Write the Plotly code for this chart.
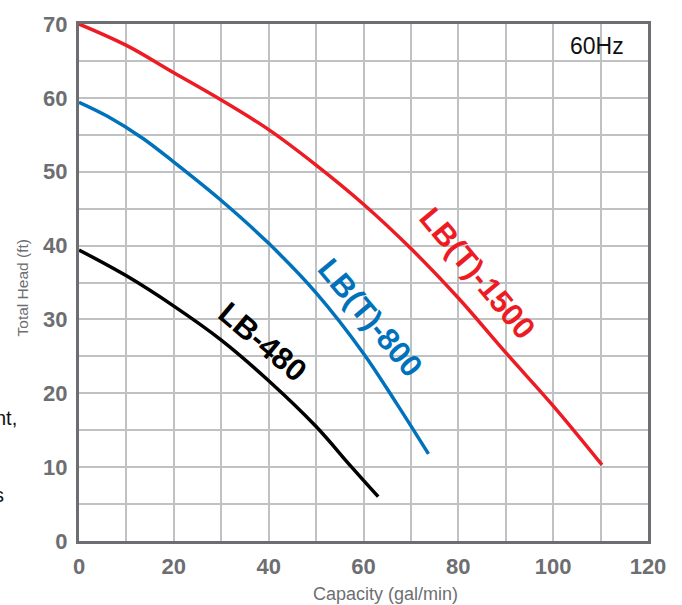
import plotly.graph_objects as go

# Data
red_x = [0, 10, 20, 30, 40, 50, 60, 70, 80, 90, 100, 110.3]
red_y = [70, 67.1, 63.4, 59.7, 55.7, 50.9, 45.6, 39.6, 32.9, 25.5, 18.3, 10.3]

blue_x = [0, 6, 13.5, 20, 30, 40, 50, 60, 67, 73.7]
blue_y = [59.4, 57.5, 54.5, 51.3, 46.1, 40.3, 33.6, 25.4, 18.6, 11.8]

black_x = [0, 10, 20, 30, 40, 50, 57.5, 63.1]
black_y = [39.4, 35.9, 31.8, 27.2, 21.7, 15.5, 10, 6]

series_names = ["LB(T)-1500", "LB(T)-800", "LB-480"]
series_colors = ["#ed1c24", "#0072bc", "#000000"]

x_ticks = [0, 20, 40, 60, 80, 100, 120]
y_ticks = [0, 10, 20, 30, 40, 50, 60, 70]

FONT = "Arial, Liberation Sans, Helvetica, sans-serif"
AXIS_GRAY = "#6d6e71"
GRID_GRAY = "#bfc1c3"

fig = go.Figure()
for xs, ys, name, col in zip([red_x, blue_x, black_x], [red_y, blue_y, black_y],
                              series_names, series_colors):
    fig.add_trace(go.Scatter(x=xs, y=ys, mode="lines", name=name,
                             line=dict(color=col, width=3.5, shape="spline", smoothing=1.0),
                             showlegend=False, hoverinfo="skip"))

# Curve labels
labels = [
    dict(text="LB(T)-1500", x=84.0, y=36.2, angle=50, color=series_colors[0]),
    dict(text="LB(T)-800", x=61.4, y=30.3, angle=50, color=series_colors[1]),
    dict(text="LB-480", x=38.6, y=27.0, angle=40, color=series_colors[2]),
]
for lb in labels:
    fig.add_annotation(x=lb["x"], y=lb["y"], xref="x", yref="y", text="<b>%s</b>" % lb["text"],
                       textangle=lb["angle"], showarrow=False,
                       font=dict(family=FONT, size=31, color=lb["color"]),
                       xanchor="center", yanchor="middle")

fig.add_annotation(x=109.3, y=67.0, xref="x", yref="y", text="60Hz", showarrow=False,
                   font=dict(family=FONT, size=23, color="#111111"),
                   xanchor="center", yanchor="middle")

L, R, T, B = 79, 34, 18, 64
W, H = 682, 605
pw = W - L - R
ph = H - T - B

# Axis titles
fig.add_annotation(xref="paper", yref="paper", x=(22 - L) / pw, y=(H - B - 285.5) / ph,
                   text="Total Head (ft)", textangle=-90, showarrow=False,
                   font=dict(family=FONT, size=15.5, color=AXIS_GRAY),
                   xanchor="center", yanchor="middle")
fig.add_annotation(xref="paper", yref="paper", x=(385 - L) / pw, y=(H - B - 595) / ph,
                   text="Capacity (gal/min)", showarrow=False,
                   font=dict(family=FONT, size=18, color=AXIS_GRAY),
                   xanchor="center", yanchor="middle")

# Cut-off text fragments at the left edge (cut in the reference too)
fig.add_annotation(xref="paper", yref="paper", x=(19 - L) / pw, y=(H - B - 417) / ph,
                   text="nt,", showarrow=False, font=dict(family=FONT, size=20, color="#111111"),
                   xanchor="right", yanchor="middle")
fig.add_annotation(xref="paper", yref="paper", x=(6 - L) / pw, y=(H - B - 494) / ph,
                   text="s", showarrow=False, font=dict(family=FONT, size=20, color="#111111"),
                   xanchor="right", yanchor="middle")

fig.update_xaxes(range=[0, 120], tickvals=x_ticks, showgrid=True, gridcolor=GRID_GRAY, gridwidth=1.5,
                 minor=dict(dtick=10, showgrid=True, gridcolor=GRID_GRAY, gridwidth=1.5),
                 showline=True, linecolor=AXIS_GRAY, linewidth=3, mirror=True,
                 ticks="", ticklabelstandoff=4, zeroline=False,
                 tickfont=dict(family=FONT, size=22, color=AXIS_GRAY, weight="bold"))
fig.update_yaxes(range=[0, 70], tickvals=y_ticks, showgrid=True, gridcolor=GRID_GRAY, gridwidth=1.5,
                 minor=dict(dtick=5, showgrid=True, gridcolor=GRID_GRAY, gridwidth=1.5),
                 showline=True, linecolor=AXIS_GRAY, linewidth=3, mirror=True,
                 ticks="", ticklabelstandoff=4, zeroline=False,
                 tickfont=dict(family=FONT, size=22, color=AXIS_GRAY, weight="bold"))

fig.update_layout(width=W, height=H, margin=dict(l=L, r=R, t=T, b=B),
                  paper_bgcolor="white", plot_bgcolor="white", showlegend=False)

fig.write_html("out.html")
